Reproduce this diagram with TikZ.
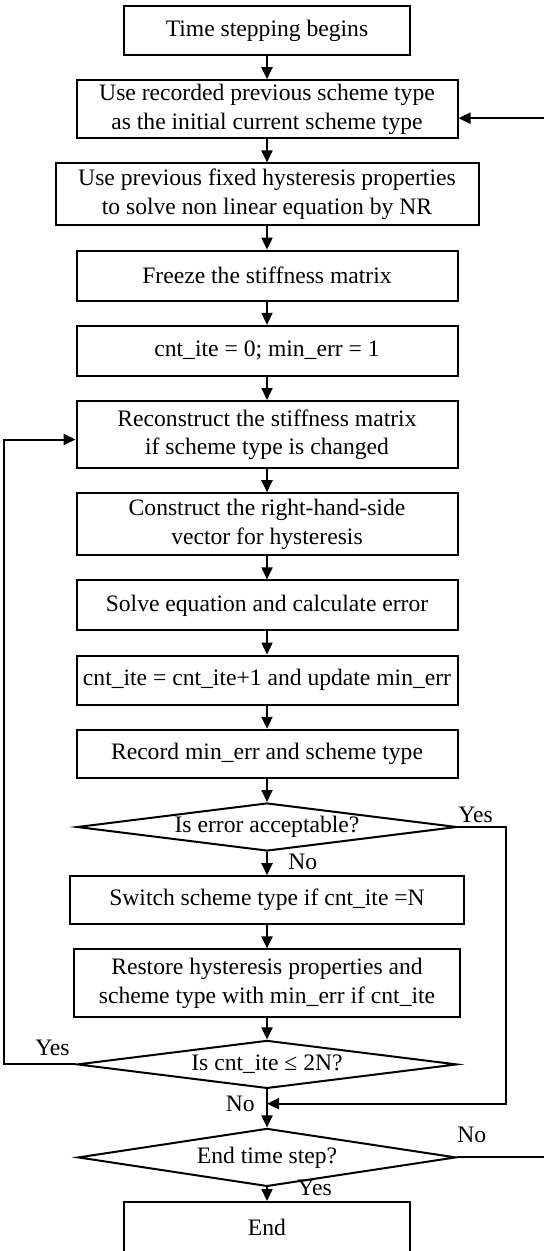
\documentclass[tikz,border=0pt]{standalone}
\usepackage{fontspec}
\setmainfont{Liberation Serif}
\usepackage{tikz}
\usetikzlibrary{shapes.geometric, arrows.meta, positioning, calc}
\tikzset{
    proc/.style={rectangle, draw, line width=1pt, minimum width=190.5pt, align=center, inner sep=2pt},
    decide/.style={diamond, draw, line width=1pt, aspect=8, minimum width=190pt, minimum height=24pt, inner sep=0pt},
    arrow/.style={-{Triangle[length=6pt, width=5.5pt]}, line width=1pt},
    lbl/.style={inner sep=0pt}
}

\begin{document}
\begin{tikzpicture}[x=0.5pt, y=-0.5pt, node distance=11.6pt,
        font=\fontsize{11.8}{14.2}\selectfont]
        \useasboundingbox (0,0) rectangle (543,1251);
        % Main column
        \node[proc, minimum width=143pt, minimum height=24.5pt] (start) at (267,30.5) {Time stepping begins};
        \node[proc, minimum height=29pt, below=of start] (recorded) {Use recorded previous scheme type\\ as the initial current scheme type};
        \node[proc, minimum width=211.5pt, minimum height=31pt, below=of recorded] (solveNR) {Use previous fixed hysteresis properties\\ to solve non linear equation by NR};
        \node[proc, minimum height=25pt, below=of solveNR] (freeze) {Freeze the stiffness matrix};
        \node[proc, minimum height=25pt, below=of freeze] (init) {cnt\_ite = 0; min\_err = 1};
        \node[proc, minimum height=33.5pt, below=of init] (recon) {Reconstruct the stiffness matrix\\ if scheme type is changed};
        \node[proc, minimum height=31pt, below=of recon] (rhs) {Construct the right-hand-side\\ vector for hysteresis};
        \node[proc, minimum height=25pt, below=of rhs] (solve) {Solve equation and calculate error};
        \node[proc, minimum height=24.5pt, below=of solve] (update) {cnt\_ite = cnt\_ite+1 and update min\_err};
        \node[proc, minimum height=24pt, below=of update] (record) {Record min\_err and scheme type};
        \node[decide, below=of record] (errq) {Is error acceptable?};
        \node[proc, minimum width=197pt, minimum height=24pt, below=of errq] (switch) {Switch scheme type if cnt\_ite =N};
        \node[proc, minimum width=193pt, minimum height=34pt, below=of switch] (restore) {Restore hysteresis properties and\\ scheme type with min\_err if cnt\_ite};
        \node[decide, below=10.5pt of restore] (cntq) {Is cnt\_ite ≤ 2N?};
        \node[decide, minimum width=189pt, minimum height=29pt, below=19pt of cntq] (endq) {End time step?};
        \node[proc, minimum width=143pt, minimum height=25pt, below=6.8pt of endq] (stop) {End};

        \coordinate (join) at ($(cntq.south)!0.375!(endq.north)$);

        \draw[arrow] (start) -- (recorded);
        \draw[arrow] (recorded) -- (solveNR);
        \draw[arrow] (solveNR) -- (freeze);
        \draw[arrow] (freeze) -- (init);
        \draw[arrow] (init) -- (recon);
        \draw[arrow] (recon) -- (rhs);
        \draw[arrow] (rhs) -- (solve);
        \draw[arrow] (solve) -- (update);
        \draw[arrow] (update) -- (record);
        \draw[arrow] (record) -- (errq);
        \draw[arrow] (errq) -- (switch);
        \draw[arrow] (switch) -- (restore);
        \draw[arrow] (restore) -- (cntq);
        \draw[arrow] (cntq) -- (endq);
        \draw[arrow] (endq) -- (stop);

        % Loops
        \draw[arrow] (cntq.west) -- ++(-72,0) |- ([yshift=-2.5pt]recon.west);
        \draw[arrow] (errq.east) -- ++(48,0) |- (join);
        \draw[arrow] (endq.east) -- ++(92,0) |- ([yshift=-4.5pt]recorded.east);

        % Branch labels
        \node[lbl, above right=2pt and 0pt of errq.east] (yes1) {Yes};
        \node[lbl, below right=1pt and 10.5pt of errq.south] (no1) {No};
        \node[lbl, above left=4pt and 3pt of cntq.west] (yes2) {Yes};
        \node[lbl, left=6pt of join] (no2) {No};
        \node[lbl, above right=7pt and 0pt of endq.east] (no3) {No};
        \node[lbl, right=15pt of endq.south] (yes3) {Yes};
    \end{tikzpicture}
\end{document}
